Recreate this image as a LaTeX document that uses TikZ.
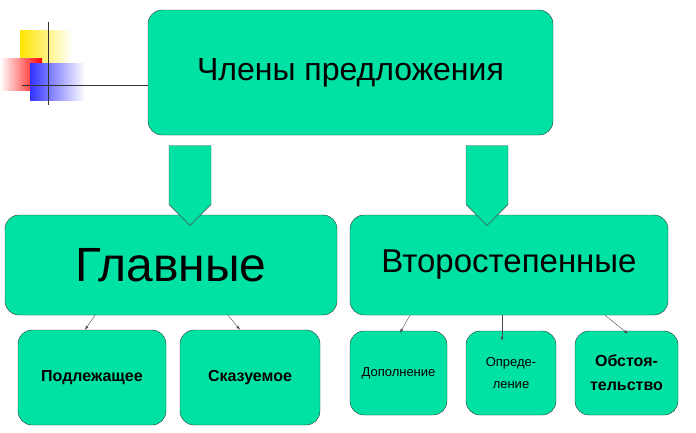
\documentclass[tikz,border=0pt]{standalone}
\usepackage{fontspec}
\setmainfont{Liberation Sans}
\usetikzlibrary{calc,
                 shapes.arrows,
                 arrows.meta
  }
\definecolor{boxgreen}{RGB}{0,226,164}

\begin{document}
\begin{tikzpicture}[
      x=1pt, y=-1pt,
      box/.style={
                rectangle,
                rounded corners=14pt,
                draw=black!80,
                fill=boxgreen,
                align=center,
                inner sep=0pt
                },
      bigarrow/.style={
                single arrow,
                draw=black!70,
                fill=boxgreen,
                shape border rotate=270,
                minimum height=80pt,
                minimum width=42pt,
                single arrow head extend=0pt,
                single arrow tip angle=90,
                inner sep=0pt
                },
      thin arrow/.style={draw=black!70, -{Latex[length=4pt,width=3pt]}}
]
\useasboundingbox (0,0) rectangle (696,432);

% corner decoration
\shade[left color=yellow!80!orange, right color=white] (20,30) rectangle (72,65);
\shade[left color=white, right color=red] (0,58) rectangle (42,90);
\shade[left color=blue!80, right color=white] (30,63) rectangle (85,100);
\draw[black!80, thick] (48,22) -- (48,105);
\draw[black!80, thick] (22,85) -- (150,85);

\node[box, minimum width=405pt, minimum height=125pt, font=\fontsize{32}{36}\selectfont] (members) at (350.5,72.5) {Члены предложения};
\node[box, minimum width=332pt, minimum height=100pt, font=\fontsize{48}{52}\selectfont] (main) at (171,265) {Главные};
\node[box, minimum width=318pt, minimum height=100pt, font=\fontsize{33}{37}\selectfont] (minor) at (509,265) {Второстепенные};

\node[box, minimum width=148pt, minimum height=95pt, font=\bfseries\fontsize{16}{19}\selectfont] (subject) at (92,377.5) {Подлежащее};
\node[box, minimum width=140pt, minimum height=95pt, font=\bfseries\fontsize{16}{19}\selectfont] (predicate) at (250,377.5) {Сказуемое};
\node[box, minimum width=97pt, minimum height=84pt, font=\fontsize{13}{16}\selectfont] (object) at (398.5,373) {Дополнение};
\node[box, minimum width=90pt, minimum height=84pt, font=\fontsize{13}{22}\selectfont] (attribute) at (511,373) {Опреде-\\ление};
\node[box, minimum width=103pt, minimum height=84pt, font=\bfseries\fontsize{16}{24}\selectfont] (adverbial) at (626.5,373) {Обстоя-\\тельство};

\node[bigarrow] (toMain) at ($ (members.south -| 190,0) !.5! (main.north -| 190,0) $) {};
\node[bigarrow] (toMinor) at ($ (members.south -| 487,0) !.5! (minor.north -| 487,0) $) {};

\draw[thin arrow] (main.south -| 95,0) -- (subject.north -| 85,0);
\draw[thin arrow] (main.south -| 228,0) -- (predicate.north -| 240,0);
\draw[thin arrow] (minor.south -| 410,0) -- ($ (object.north -| 400,0) + (0,2) $);
\draw[thin arrow] (minor.south -| 502,0) -- ($ (attribute.north -| 502,0) + (0,10) $);
\draw[thin arrow] (minor.south -| 605,0) -- ($ (adverbial.north -| 628,0) + (0,3) $);

\end{tikzpicture}
\end{document}
